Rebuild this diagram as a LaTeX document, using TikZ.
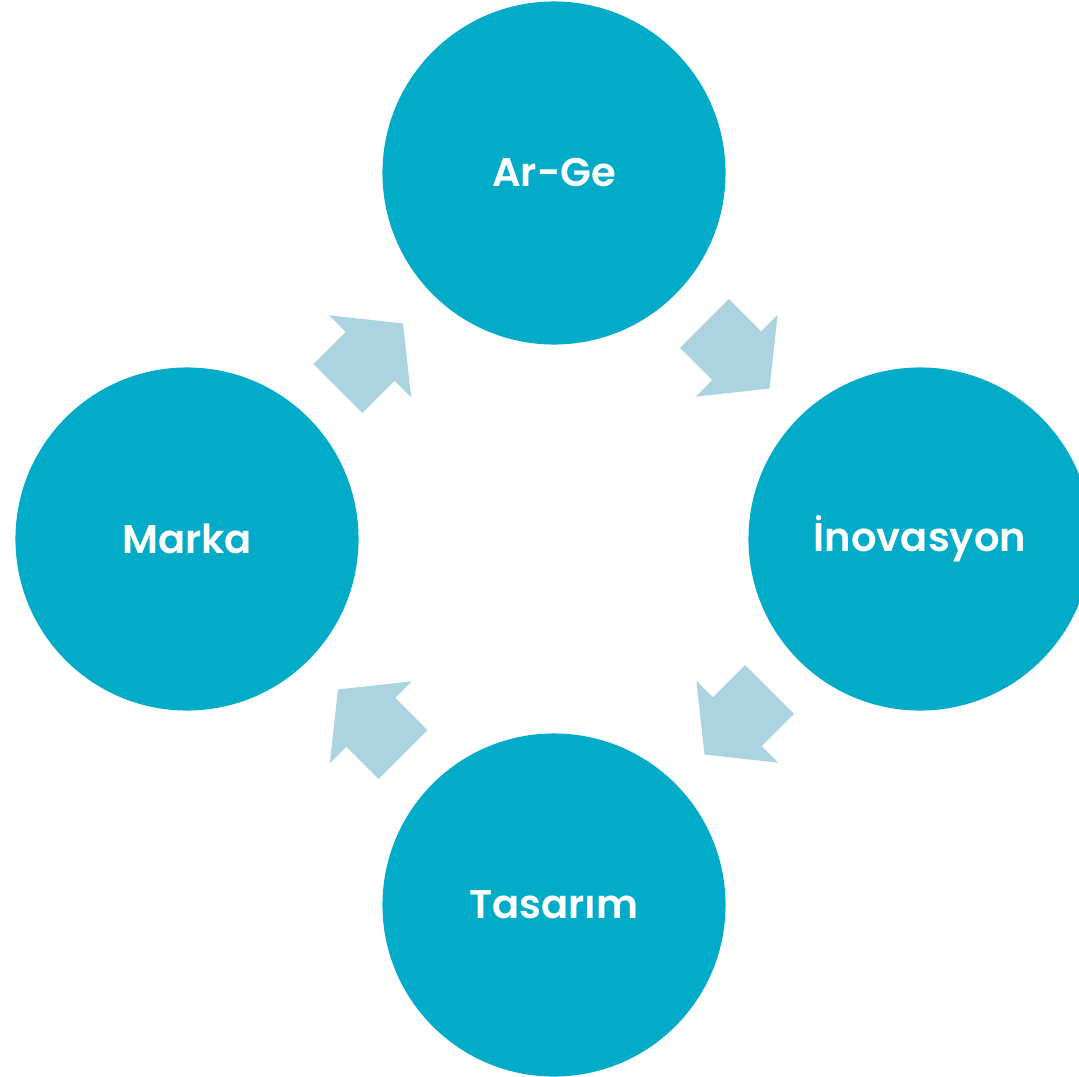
\documentclass[tikz,border=0pt]{standalone}
\usepackage{fontspec}
\setmainfont{Poppins}[BoldFont={Poppins SemiBold}]
\usetikzlibrary{calc}
\definecolor{daire}{RGB}{2,172,200}
\definecolor{okmavi}{RGB}{172,211,224}
\tikzset{
    kavram/.style={circle,
        minimum size=8.575cm,
        fill=daire,
        text=white,
        font=\fontsize{28.5}{33}\selectfont\bfseries},
    blokok/.pic={
        \fill[okmavi] (-46,-34.6) -- (-0.5,-34.6) -- (-0.5,-58) -- (46,0)
            -- (-0.5,58) -- (-0.5,34.6) -- (-46,34.6) -- cycle;
    }
}
\begin{document}
\begin{tikzpicture}[x=0.025cm,y=-0.025cm]
    \useasboundingbox (0,0) rectangle (1079,1077);

            \node[kavram] (arge) at (554,173) {Ar-Ge};
            \node[kavram] (inovasyon) at (920,539) {İnovasyon};
            \node[kavram] (tasarim) at (554,905) {Tasarım};
            \node[kavram] (marka) at (187,539) {Marka};

            \pic[rotate=-45] at ($(arge)!0.5!(inovasyon)$) {blokok};
            \pic[rotate=-135] at ($(inovasyon)!0.5!(tasarim)$) {blokok};
            \pic[rotate=135] at ($(tasarim)!0.5!(marka)$) {blokok};
            \pic[rotate=45] at ($(marka)!0.5!(arge)$) {blokok};

\end{tikzpicture}
\end{document}
